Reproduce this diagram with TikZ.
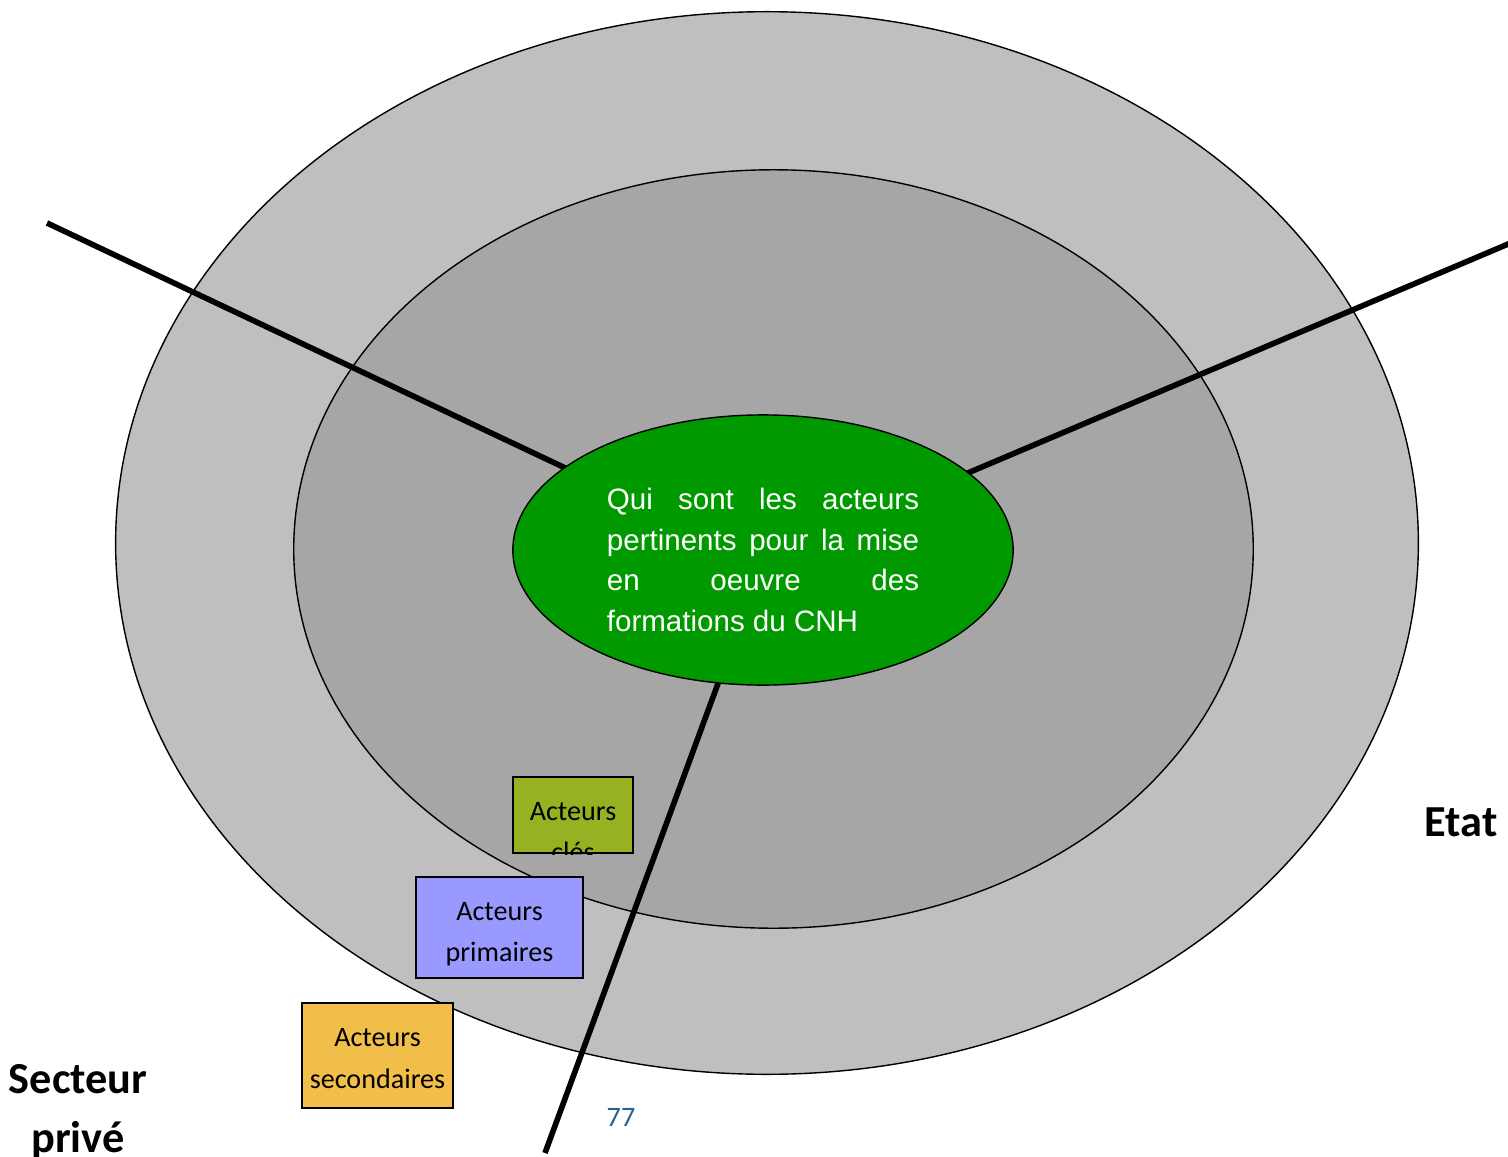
\documentclass[tikz,border=0pt]{standalone}
\usepackage{fontspec}
\setmainfont{Carlito}
\newfontfamily\arialfont{Liberation Sans}
\usetikzlibrary{shapes.geometric}
\definecolor{outergray}{RGB}{191,191,191}
\definecolor{innergray}{RGB}{166,166,166}
\definecolor{coregreen}{RGB}{0,153,0}
\definecolor{keyolive}{RGB}{150,178,35}
\definecolor{primpurple}{RGB}{153,153,255}
\definecolor{secorange}{RGB}{242,190,74}
\definecolor{pageblue}{RGB}{31,99,145}
\tikzset{
  ring/.style={ellipse, draw=black, line width=0.4pt, inner sep=0pt},
  divider/.style={line width=1.6pt, draw=black},
  actorbox/.style={draw=black, line width=0.6pt, inner sep=0pt},
  actortext/.style={inner sep=0pt, align=center, font=\fontsize{8pt}{11.7pt}\selectfont},
  sector/.style={font=\fontsize{12.6pt}{17pt}\selectfont\bfseries, align=center, inner sep=0pt}
}
\begin{document}
\begin{tikzpicture}[x=0.01cm, y=-0.01cm]
\useasboundingbox (0,0) rectangle (1508,1157);
% concentric rings
\node[ring, fill=outergray, minimum width=13.02cm, minimum height=10.62cm] (outer) at (767,543) {};
\node[ring, fill=innergray, minimum width=9.59cm, minimum height=7.58cm] (middle) at (773.5,549) {};
% dividers between the sectors
\coordinate (tl) at (47,223);
\coordinate (tlin) at (600,484.4);
\coordinate (tr) at (1520,239);
\coordinate (trin) at (930,489);
\coordinate (bt) at (545,1153);
\coordinate (btin) at (730,651);
\draw[divider] (tl) -- (tlin);
\draw[divider] (tr) -- (trin);
\draw[divider] (bt) -- (btin);
% central question
\node[ring, fill=coregreen, minimum width=5cm, minimum height=2.7cm] (core) at (763,550) {};
\node[text=white, inner sep=0pt, font=\arialfont\fontsize{8.4pt}{11.5pt}\selectfont, align=left] (question) at (763,560) {%
\makebox[3.12cm][s]{Qui sont les acteurs}\\
\makebox[3.12cm][s]{pertinents pour la mise}\\
\makebox[3.12cm][s]{en oeuvre des}\\
\makebox[3.12cm][l]{formations du CNH}};
% legend boxes
\node[actorbox, fill=keyolive, minimum width=1.2cm, minimum height=0.76cm] (key) at (573,815) {};
\begin{scope}
\clip (key.south west) rectangle (key.north east);
\node[actortext] (keytext) at (573,832) {Acteurs\\clés};
\end{scope}
\node[actorbox, minimum width=1.2cm, minimum height=0.76cm] (keyframe) at (key) {};
\node[actorbox, fill=primpurple, minimum width=1.67cm, minimum height=1.01cm] (prim) at (499.5,927.5) {};
\node[actortext] (primtext) at (prim.center) [yshift=-0.07cm] {Acteurs\\primaires};
\node[actorbox, fill=secorange, minimum width=1.51cm, minimum height=1.05cm] (sec) at (377.5,1055.5) {};
\node[actortext] (sectext) at (sec.center) [yshift=-0.03cm] {Acteurs\\secondaires};
% sector labels
\node[sector] (etat) at (1461,822) {Etat};
\node[sector] (prive) at (78,1112) {Secteur\\privé};
\node[text=pageblue, font=\fontsize{8pt}{10pt}\selectfont, inner sep=0pt] (page) at (621,1117) {77};
\end{tikzpicture}
\end{document}
